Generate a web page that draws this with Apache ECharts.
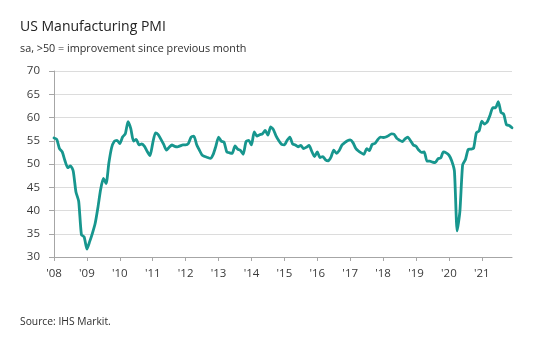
<!DOCTYPE html>
<html>
<head>
<meta charset="utf-8">
<script src="https://cdn.jsdelivr.net/npm/echarts@6/dist/echarts.min.js"></script>
<style>
  html, body { margin: 0; padding: 0; background: #ffffff; }
  #chart { width: 543px; height: 343px; }
</style>
</head>
<body>
<div id="chart"></div>
<script>
// US Manufacturing PMI, seasonally adjusted, monthly
const years = [2008, 2009, 2010, 2011, 2012, 2013, 2014, 2015, 2016, 2017, 2018, 2019, 2020, 2021];

const pmi2008 = [55.6, 55.3, 53.3, 52.6, 50.7, 49.2, 49.6, 48.5, 44.0, 42.0, 34.8, 34.3];
const pmi2009 = [31.7, 33.3, 35.1, 37.2, 40.6, 44.5, 46.9, 45.8, 50.2, 53.5, 54.9, 55.1];
const pmi2010 = [54.4, 55.8, 56.5, 59.1, 57.6, 54.9, 55.3, 54.1, 54.3, 53.8, 52.7, 51.8];
const pmi2011 = [54.5, 56.7, 56.3, 55.3, 54.2, 53.0, 53.6, 54.1, 53.8, 53.7, 53.9, 54.1];
const pmi2012 = [54.1, 54.4, 55.8, 56.0, 54.2, 53.0, 51.9, 51.6, 51.4, 51.2, 52.0, 53.8];
const pmi2013 = [55.8, 54.9, 54.7, 52.6, 52.4, 52.3, 53.9, 53.2, 52.9, 52.1, 54.8, 55.1];
const pmi2014 = [54.1, 56.9, 56.0, 56.3, 56.5, 57.2, 56.2, 58.0, 57.4, 56.0, 55.0, 54.2];
const pmi2015 = [54.1, 55.1, 55.8, 54.3, 54.1, 53.7, 54.0, 53.3, 53.6, 54.0, 52.7, 51.6];
const pmi2016 = [52.6, 51.4, 51.6, 50.9, 50.7, 51.5, 53.0, 52.3, 52.9, 54.1, 54.6, 55.0];
const pmi2017 = [55.2, 54.6, 53.4, 52.8, 52.4, 52.1, 53.3, 52.9, 54.2, 54.4, 55.2, 55.8];
const pmi2018 = [55.7, 55.8, 56.1, 56.5, 56.4, 55.5, 55.1, 54.8, 55.4, 55.8, 55.0, 54.1];
const pmi2019 = [53.8, 53.0, 52.5, 52.6, 50.6, 50.6, 50.4, 50.3, 51.1, 51.3, 52.6, 52.4];
const pmi2020 = [51.9, 50.7, 48.5, 35.6, 39.8, 49.8, 50.9, 53.1, 53.2, 53.4, 56.7, 57.1];
const pmi2021 = [59.2, 58.6, 59.1, 60.5, 62.1, 62.1, 63.4, 61.1, 60.7, 58.4, 58.3, 57.8];

const yTicks = [30, 35, 40, 45, 50, 55, 60, 65, 70];

const pmi = [].concat(pmi2008, pmi2009, pmi2010, pmi2011, pmi2012, pmi2013, pmi2014,
  pmi2015, pmi2016, pmi2017, pmi2018, pmi2019, pmi2020, pmi2021);

const months = [];
years.forEach(y => {
  for (let m = 1; m <= 12; m++) months.push(y + '-' + (m < 10 ? '0' + m : m));
});

const textFont = '"Open Sans", "Noto Sans", sans-serif';
const chart = echarts.init(document.getElementById('chart'), null, { renderer: 'canvas' });

chart.setOption({
  animation: false,
  backgroundColor: '#ffffff',
  title: [
    {
      text: 'US Manufacturing PMI',
      left: 15, top: 15,
      textStyle: { fontFamily: textFont, fontSize: 14, fontWeight: 'normal', color: '#222222' }
    },
    {
      text: 'sa, >50 = improvement since previous month',
      left: 15, top: 38,
      textStyle: { fontFamily: textFont, fontSize: 10.8, fontWeight: 'normal', color: '#2e2e2e' }
    },
    {
      text: 'Source: IHS Markit.',
      left: 15, top: 312,
      textStyle: { fontFamily: textFont, fontSize: 10.3, fontWeight: 'normal', color: '#2e2e2e' }
    }
  ],
  grid: { left: 54, right: 31, top: 71, bottom: 86, containLabel: false },
  xAxis: {
    type: 'category',
    data: months,
    boundaryGap: false,
    axisLine: { lineStyle: { color: '#a6a6a6', width: 1 } },
    axisTick: {
      length: 4,
      interval: (i) => i % 12 === 0,
      lineStyle: { color: '#a6a6a6' }
    },
    axisLabel: {
      interval: (i) => i % 12 === 0,
      formatter: (v) => "'" + v.slice(2, 4),
      margin: 11,
      fontFamily: textFont, fontSize: 11.5, color: '#3a3a3a'
    },
    splitLine: { show: false }
  },
  yAxis: {
    type: 'value',
    min: yTicks[0],
    max: yTicks[yTicks.length - 1],
    interval: 5,
    axisLine: { show: true, lineStyle: { color: '#a6a6a6', width: 1 } },
    axisTick: { show: true, length: 5, lineStyle: { color: '#a6a6a6' } },
    axisLabel: { margin: 14, fontFamily: textFont, fontSize: 11.5, color: '#3a3a3a' },
    splitLine: { lineStyle: { color: '#dcdcdc', width: 1 } }
  },
  series: [{
    type: 'line',
    data: pmi,
    showSymbol: false,
    smooth: 0.2,
    lineStyle: { color: '#17968e', width: 2.8, join: 'round', cap: 'round' },
    z: 3
  }]
});
</script>
</body>
</html>
